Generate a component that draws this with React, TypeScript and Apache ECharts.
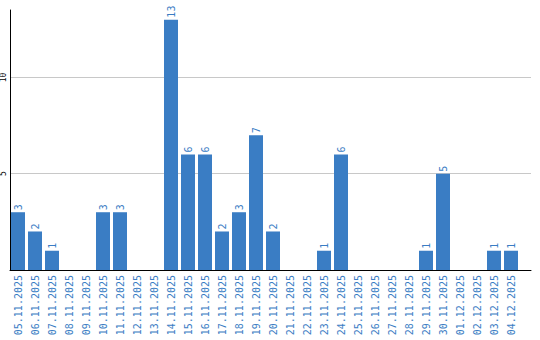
import React, { useEffect, useRef } from "react";
import * as echarts from "echarts";

const categories = [
  "05.11.2025", "06.11.2025", "07.11.2025", "08.11.2025", "09.11.2025",
  "10.11.2025", "11.11.2025", "12.11.2025", "13.11.2025", "14.11.2025",
  "15.11.2025", "16.11.2025", "17.11.2025", "18.11.2025", "19.11.2025",
  "20.11.2025", "21.11.2025", "22.11.2025", "23.11.2025", "24.11.2025",
  "25.11.2025", "26.11.2025", "27.11.2025", "28.11.2025", "29.11.2025",
  "30.11.2025", "01.12.2025", "02.12.2025", "03.12.2025", "04.12.2025",
];
const values = [
  3, 2, 1, 0, 0, 3, 3, 0, 0, 13,
  6, 6, 2, 3, 7, 2, 0, 0, 1, 6,
  0, 0, 0, 0, 1, 5, 0, 0, 1, 1,
];
const yMax = 13.5;
const yInterval = 5;

const BLUE = "#3a7dc4";
const MONO = "'DejaVu Sans Mono', 'Liberation Mono', monospace";

export default function App() {
  const ref = useRef<HTMLDivElement>(null);
  useEffect(() => {
    document.body.style.margin = "0";
    if (!ref.current) return;
    const chart = echarts.init(ref.current, undefined, { renderer: "svg" });
    chart.setOption({
      animation: false,
      backgroundColor: "#ffffff",
      grid: [
        { left: 10, top: 10, width: 521, height: 260, containLabel: false, outerBoundsMode: "none" },
        { left: 9.5, top: 10, width: 510, height: 260, containLabel: false, outerBoundsMode: "none" },
      ],
      xAxis: [
        {
          gridIndex: 0,
          type: "value",
          min: 0,
          max: 1,
          axisLine: { show: true, onZero: false, lineStyle: { color: "#000", width: 1 } },
          axisTick: { show: false },
          axisLabel: { show: false },
          splitLine: { show: false },
        },
        {
          gridIndex: 1,
          type: "category",
          data: categories,
          axisLine: { show: false },
          axisTick: { show: false },
          axisLabel: {
            rotate: 90,
            interval: 0,
            margin: 5,
            color: BLUE,
            fontFamily: MONO,
            fontSize: 10,
          },
          splitLine: { show: false },
        },
      ],
      yAxis: [
        {
          gridIndex: 0,
          type: "value",
          min: 0,
          max: yMax,
          interval: yInterval,
          axisLine: { show: true, onZero: false, lineStyle: { color: "#000", width: 1 } },
          axisTick: { show: false },
          axisLabel: {
            show: true,
            rotate: 90,
            margin: 3,
            color: "#000",
            fontFamily: MONO,
            fontSize: 8,
            formatter: (v: number) => (v > 0 && v % yInterval === 0 ? String(v) : ""),
          },
          splitLine: {
            show: true,
            showMinLine: false,
            showMaxLine: false,
            lineStyle: { color: "#c8c8c8", width: 1 },
          },
        },
        {
          gridIndex: 1,
          type: "value",
          min: 0,
          max: yMax,
          show: false,
        },
      ],
      series: [
        {
          type: "bar",
          xAxisIndex: 1,
          yAxisIndex: 1,
          data: values,
          barWidth: 14,
          itemStyle: { color: BLUE },
          label: {
            show: true,
            position: "top",
            rotate: 90,
            align: "left",
            verticalAlign: "middle",
            distance: 2,
            color: BLUE,
            fontFamily: MONO,
            fontSize: 10,
            formatter: (p: any) => (p.value > 0 ? String(p.value) : ""),
          },
        },
      ],
    });
    return () => chart.dispose();
  }, []);
  return <div ref={ref} style={{ width: 540, height: 340 }} />;
}
